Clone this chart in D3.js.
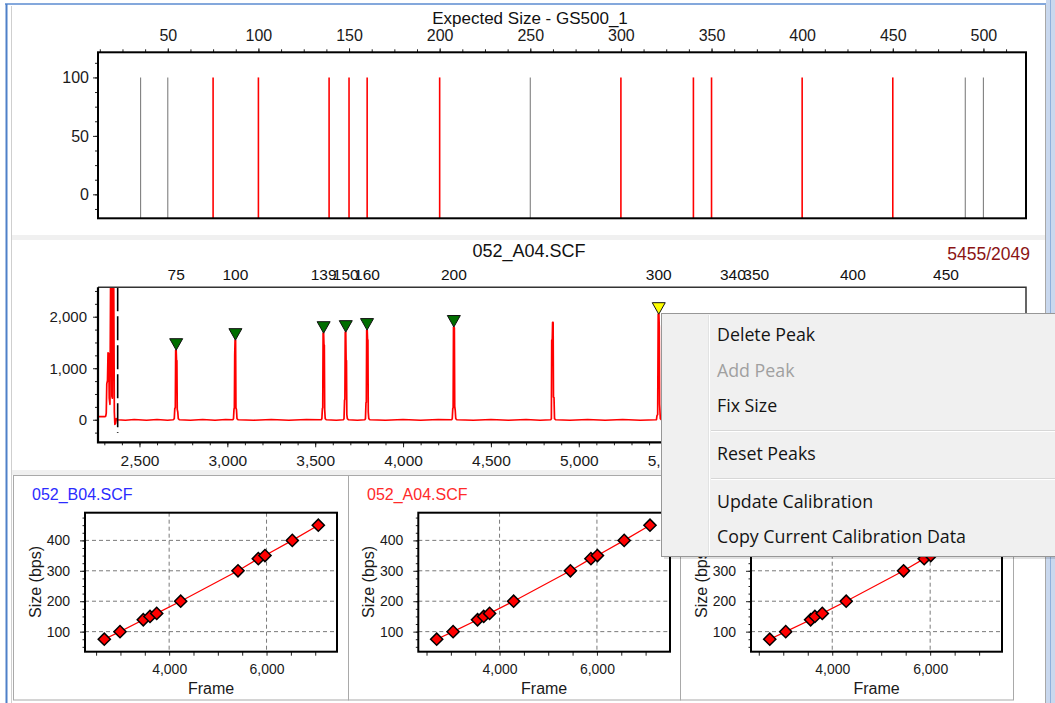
<!DOCTYPE html>
<html><head><meta charset="utf-8">
<script src="https://cdn.jsdelivr.net/npm/d3@7/dist/d3.min.js"></script>
<style>
html,body{margin:0;padding:0;background:#fff;overflow:hidden}
svg{display:block}
.ax text{font-family:"Liberation Sans",Arial,sans-serif;fill:#1a1a1a}
.ax path.domain{display:none}
.ax line{stroke:#222}
text.t{font-family:"Liberation Sans",Arial,sans-serif}
.menu text{font-family:"Open Sans","Noto Sans",sans-serif}
</style></head><body>
<svg id="chart" width="1055" height="703"></svg>
<script>
// ---------------- data ----------------
const ladderSizes  = [35, 50, 75, 100, 139, 150, 160, 200, 250, 300, 340, 350, 400, 450, 490, 500];
const ladderUsed   = [0, 0, 1, 1, 1, 1, 1, 1, 0, 1, 1, 1, 1, 1, 0, 0];
const ladderHeight = 100;
const ladderXTicks = [50, 100, 150, 200, 250, 300, 350, 400, 450, 500];
const ladderYTicks = [0, 50, 100];

const peakSizes    = [75, 100, 139, 150, 160, 200, 300, 340, 350, 400, 450];
const peakFrames   = [2709, 3046, 3548, 3674, 3795, 4289, 5455, 5877, 6010, 6560, 7090];
const peakTops     = [1350, 1545, 1680, 1700, 1740, 1800, 2049, 1700, 1680, 1650, 1600];
const selectedPeak = 6;
const startFrame   = 2376;
const traceXTicks  = [2500, 3000, 3500, 4000, 4500, 5000, 5500];
const traceYTicks  = [0, 1000, 2000];
const trace = [
[2264,60],[2302,60],[2308,70],[2311,130],[2314,700],[2318,760],[2321,1300],[2325,1280],[2328,420],[2332,300],[2336,2900],[2340,3100],[2343,450],[2346,420],[2349,3100],[2353,3000],[2357,150],[2360,-90],[2364,-70],[2368,20],[2374,0],
[2420,-10],[2470,5],[2540,-10],[2600,5],[2660,-10],[2692,0],
[2698,20],[2701,220],[2704,230],[2706,1350],[2709,1350],[2711,1150],[2713,1150],[2715,200],[2718,150],[2721,20],[2727,0],
[2790,-10],[2860,5],[2930,-10],[2990,5],[3032,0],
[3035,20],[3038,210],[3040,230],[3042,1250],[3044,1545],[3047,1545],[3049,230],[3052,200],[3055,20],[3061,0],
[3150,-10],[3250,5],[3350,-10],[3450,5],[3534,0],
[3538,20],[3541,220],[3543,230],[3545,1680],[3548,1680],[3550,1450],[3552,1450],[3554,200],[3557,20],[3563,0],
[3620,-10],[3661,0],
[3664,20],[3667,380],[3669,400],[3671,1700],[3674,1700],[3676,1150],[3678,1150],[3680,100],[3683,20],[3689,0],
[3740,-10],[3783,0],
[3786,20],[3789,330],[3791,340],[3793,1740],[3796,1740],[3798,1550],[3800,1550],[3802,150],[3805,20],[3811,0],
[3900,-10],[4000,5],[4100,-10],[4200,5],[4277,0],
[4280,20],[4283,220],[4285,230],[4287,1800],[4290,1800],[4292,1780],[4294,260],[4297,180],[4300,20],[4306,0],
[4400,-10],[4500,5],[4600,-10],[4700,5],[4780,-10],[4841,0],
[4844,20],[4846,1545],[4849,1545],[4851,1890],[4854,1890],[4856,440],[4859,430],[4862,20],[4868,0],
[4950,-10],[5050,5],[5150,-10],[5250,5],[5350,-10],[5442,0],
[5445,80],[5449,100],[5452,2049],[5456,2049],[5458,1800],[5460,300],[5464,20],[5470,0],
[5860,0],[5872,300],[5874,1700],[5878,1700],[5883,300],[5890,0],
[5995,0],[6005,300],[6008,1680],[6012,1680],[6016,300],[6024,0],
[6545,0],[6555,300],[6558,1650],[6562,1650],[6566,300],[6574,0],
[7075,0],[7085,300],[7088,1600],[7092,1600],[7096,300],[7104,0],
[7545,0]
];

const calSizes     = [75, 100, 139, 150, 160, 200, 300, 340, 350, 400, 450];
const calFramesB04 = [2668, 2991, 3469, 3607, 3744, 4237, 5414, 5831, 5968, 6529, 7063];
const calFramesA04 = [2709, 3046, 3548, 3674, 3795, 4289, 5455, 5877, 6010, 6560, 7090];
const calFramesC   = [2724, 3050, 3559, 3646, 3797, 4285, 5457, 5878, 6012, 6562, 7092];
const calXTicks    = [4000, 6000];
const calYTicks    = [100, 200, 300, 400];

const menuItems   = ["Delete Peak", "Add Peak", "Fix Size", "Reset Peaks", "Update Calibration", "Copy Current Calibration Data"];
const menuEnabled = [1, 0, 1, 1, 1, 1];

// ---------------- drawing ----------------
const svg = d3.select("#chart");
const W = 1055, H = 703;
const range = (a, b, s) => d3.range(a, b + s / 2, s);
// context menu rectangle (used to skip labels that it fully covers)
const mx = 661, my = 313, mw = 420, mh = 243;
const underMenu = (x, y) => x > mx + 8 && y > my && y < my + mh;

svg.append("rect").attr("width", W).attr("height", H).attr("fill", "#fff");

// window chrome
svg.append("rect").attr("x", 1046).attr("y", 0).attr("width", 9).attr("height", H).attr("fill", "#c9d8ee");
svg.append("line").attr("x1", 1045.5).attr("x2", 1045.5).attr("y1", 5).attr("y2", H).attr("stroke", "#a8a8a8");
svg.append("line").attr("x1", 1050.5).attr("x2", 1050.5).attr("y1", 0).attr("y2", H).attr("stroke", "#8fb0dc");
svg.append("line").attr("x1", 5).attr("x2", 1046).attr("y1", 4).attr("y2", 4).attr("stroke", "#5b8bd0").attr("stroke-width", 1.5);
svg.append("line").attr("x1", 6.5).attr("x2", 6.5).attr("y1", 4).attr("y2", H).attr("stroke", "#4f80c8").attr("stroke-width", 2);
svg.append("line").attr("x1", 11.5).attr("x2", 11.5).attr("y1", 6).attr("y2", H).attr("stroke", "#cfcfcf");
svg.append("rect").attr("x", 12).attr("y", 235).attr("width", 1033).attr("height", 5).attr("fill", "#f0f0f0");
svg.append("rect").attr("x", 12).attr("y", 470).attr("width", 1033).attr("height", 5).attr("fill", "#f0f0f0");

// ---------- top panel: expected sizes ----------
const xTop = d3.scaleLinear().domain([11.5, 523.5]).range([98, 1026]);
const yTop = d3.scaleLinear().domain([-20.5, 121.5]).range([218.3, 52.3]);

svg.append("text").attr("class", "t").attr("x", 530).attr("y", 24).attr("text-anchor", "middle")
  .attr("font-size", 17).attr("fill", "#111").text("Expected Size - GS500_1");

svg.append("g").attr("class", "ax").attr("transform", "translate(0,52.3)")
  .call(d3.axisTop(xTop).tickValues(range(12.5, 512.5, 12.5)).tickSize(3).tickFormat(""));
svg.append("g").attr("class", "ax").attr("transform", "translate(0,52.3)")
  .call(d3.axisTop(xTop).tickValues(ladderXTicks).tickSize(4).tickPadding(7))
  .selectAll("text").attr("font-size", 16);
svg.append("g").attr("class", "ax").attr("transform", "translate(98,0)")
  .call(d3.axisLeft(yTop).tickValues(range(-12.5, 112.5, 12.5)).tickSize(3).tickFormat(""));
svg.append("g").attr("class", "ax").attr("transform", "translate(98,0)")
  .call(d3.axisLeft(yTop).tickValues(ladderYTicks).tickSize(5).tickPadding(4))
  .selectAll("text").attr("font-size", 16);

svg.append("g").selectAll("line").data(ladderSizes).join("line")
  .attr("x1", d => xTop(d)).attr("x2", d => xTop(d))
  .attr("y1", yTop(ladderHeight)).attr("y2", yTop.range()[0])
  .attr("stroke", (d, i) => ladderUsed[i] ? "#ff0000" : "#7f7f7f")
  .attr("stroke-width", (d, i) => ladderUsed[i] ? 1.6 : 1.1);

svg.append("rect").attr("x", 98).attr("y", 52.3).attr("width", 1026 - 98).attr("height", 218.3 - 52.3)
  .attr("fill", "none").attr("stroke", "#000").attr("stroke-width", 2);

// ---------- middle panel: trace ----------
const xMid = d3.scaleLinear().domain([2264, 7545]).range([98, 1026]);
const yMid = d3.scaleLinear().domain([-438, 2571]).range([442.3, 287.3]);

svg.append("text").attr("class", "t").attr("x", 529).attr("y", 257).attr("text-anchor", "middle")
  .attr("font-size", 18).attr("fill", "#111").text("052_A04.SCF");
svg.append("text").attr("class", "t").attr("x", 1030).attr("y", 260).attr("text-anchor", "end")
  .attr("font-size", 17.5).attr("fill", "#8b1414")
  .text(peakFrames[selectedPeak] + "/" + peakTops[selectedPeak]);

svg.append("g").selectAll("text").data(peakSizes).join("text").attr("class", "t")
  .attr("x", (d, i) => xMid(peakFrames[i])).attr("y", 280).attr("text-anchor", "middle")
  .attr("font-size", 15.5).attr("fill", "#111").text(d => d);

svg.append("defs").append("clipPath").attr("id", "midclip").append("rect")
  .attr("x", 98).attr("y", 287.3).attr("width", 928).attr("height", 155);

svg.append("g").attr("class", "ax").attr("transform", "translate(0,442.3)")
  .call(d3.axisBottom(xMid).tickValues(range(2300, 7500, 100)).tickSize(3).tickFormat(""));
svg.append("g").attr("class", "ax").attr("transform", "translate(0,442.3)")
  .call(d3.axisBottom(xMid).tickValues(traceXTicks).tickSize(5).tickPadding(8).tickFormat(d3.format(",")))
  .selectAll("text").attr("font-size", 15.5);
svg.append("g").attr("class", "ax").attr("transform", "translate(98,0)")
  .call(d3.axisLeft(yMid).tickValues(range(-250, 2500, 250)).tickSize(3).tickFormat(""));
svg.append("g").attr("class", "ax").attr("transform", "translate(98,0)")
  .call(d3.axisLeft(yMid).tickValues(traceYTicks).tickSize(5).tickPadding(6).tickFormat(d3.format(",")))
  .selectAll("text").attr("font-size", 15);

const gTrace = svg.append("g").attr("clip-path", "url(#midclip)");
gTrace.append("path").datum(trace)
  .attr("d", d3.line().x(d => xMid(d[0])).y(d => yMid(d[1])))
  .attr("fill", "none").attr("stroke", "#ff0000").attr("stroke-width", 1.7).attr("stroke-linejoin", "round");
gTrace.append("line").attr("x1", xMid(startFrame)).attr("x2", xMid(startFrame))
  .attr("y1", 287.3).attr("y2", 433).attr("stroke", "#000").attr("stroke-width", 1.6)
  .attr("stroke-dasharray", "24,5");

svg.append("g").selectAll("path").data(peakFrames).join("path")
  .attr("d", (d, i) => {
    const x = xMid(d), y = yMid(peakTops[i]);
    return `M${x},${y} L${x - 6.5},${y - 11.5} L${x + 6.5},${y - 11.5} Z`;
  })
  .attr("fill", (d, i) => i === selectedPeak ? "#ffff00" : "#006e00")
  .attr("stroke", "#111").attr("stroke-width", 1);

svg.append("path").attr("d", "M98,287.3 H1026 V442.3").attr("fill", "none").attr("stroke", "#333").attr("stroke-width", 1.5);
svg.append("path").attr("d", "M98,287.3 V442.3 H1026").attr("fill", "none").attr("stroke", "#000").attr("stroke-width", 2.2);

// ---------- bottom panels: calibration ----------
const yCal = d3.scaleLinear().domain([34, 491]).range([651.7, 512.7]);
const panels = [
  { px0: 13, px1: 348, bx0: 85, bx1: 337, domain: [2272, 7447], frames: calFramesB04, title: "052_B04.SCF", color: "#2b2bff" },
  { px0: 348, px1: 680, bx0: 418.3, bx1: 670, domain: [2331, 7501], frames: calFramesA04, title: "052_A04.SCF", color: "#ff2a2a" },
  { px0: 680, px1: 1013, bx0: 751, bx1: 1002, domain: [2341, 7467], frames: calFramesC, title: null, color: "#000" }
];
panels.forEach(p => {
  const g = svg.append("g");
  g.append("rect").attr("x", p.px0 + 0.5).attr("y", 475.5).attr("width", p.px1 - p.px0).attr("height", 224.5)
    .attr("fill", "#fff").attr("stroke", "#a9a9a9");
  if (p.title) g.append("text").attr("class", "t").attr("x", p.px0 + 19).attr("y", 500)
    .attr("font-size", 16).attr("fill", p.color).text(p.title);
  const x = d3.scaleLinear().domain(p.domain).range([p.bx0, p.bx1]);
  g.append("g").selectAll("line").data(calXTicks).join("line")
    .attr("x1", d => x(d)).attr("x2", d => x(d)).attr("y1", 512.7).attr("y2", 651.7)
    .attr("stroke", "#7a7a7a").attr("stroke-dasharray", "4,3");
  g.append("g").selectAll("line").data(calYTicks).join("line")
    .attr("x1", p.bx0).attr("x2", p.bx1).attr("y1", d => yCal(d)).attr("y2", d => yCal(d))
    .attr("stroke", "#7a7a7a").attr("stroke-dasharray", "4,3");
  g.append("g").attr("class", "ax").attr("transform", "translate(0,651.7)")
    .call(d3.axisBottom(x).tickValues(range(2500, 7000, 500)).tickSize(4).tickFormat(""));
  g.append("g").attr("class", "ax").attr("transform", "translate(0,651.7)")
    .call(d3.axisBottom(x).tickValues(calXTicks).tickSize(0).tickPadding(12).tickFormat(d3.format(",")))
    .selectAll("text").attr("font-size", 14);
  g.append("g").attr("class", "ax").attr("transform", `translate(${p.bx0},0)`)
    .call(d3.axisLeft(yCal).tickValues(range(50, 475, 25)).tickSize(2.5).tickFormat(""));
  g.append("g").attr("class", "ax").attr("transform", `translate(${p.bx0},0)`)
    .call(d3.axisLeft(yCal).tickValues(calYTicks.filter(v => !underMenu(p.bx0 - 20, yCal(v))))
      .tickSize(5).tickPadding(10))
    .selectAll("text").attr("font-size", 14);
  g.append("text").attr("class", "t").attr("x", (p.bx0 + p.bx1) / 2).attr("y", 694)
    .attr("text-anchor", "middle").attr("font-size", 16).attr("fill", "#1a1a1a").text("Frame");
  g.append("text").attr("class", "t").attr("transform", `translate(${p.bx0 - 44},582) rotate(-90)`)
    .attr("text-anchor", "middle").attr("font-size", 16).attr("fill", "#1a1a1a").text("Size (bps)");
  const pts = p.frames.map((f, i) => [f, calSizes[i]]);
  g.append("path").datum(pts).attr("d", d3.line().x(d => x(d[0])).y(d => yCal(d[1])))
    .attr("fill", "none").attr("stroke", "#ff0000").attr("stroke-width", 1.2);
  g.append("g").selectAll("path").data(pts).join("path")
    .attr("transform", d => `translate(${x(d[0])},${yCal(d[1])}) rotate(45)`)
    .attr("d", d3.symbol(d3.symbolSquare, 74))
    .attr("fill", "#ff0000").attr("stroke", "#000").attr("stroke-width", 1.5);
  g.append("rect").attr("x", p.bx0).attr("y", 512.7).attr("width", p.bx1 - p.bx0).attr("height", 651.7 - 512.7)
    .attr("fill", "none").attr("stroke", "#000").attr("stroke-width", 2);
});

// ---------- context menu ----------
const menu = svg.append("g").attr("class", "menu");
menu.append("rect").attr("x", mx + 3).attr("y", my + 3).attr("width", mw).attr("height", mh).attr("fill", "#000").attr("opacity", 0.12);
menu.append("rect").attr("x", mx + 0.5).attr("y", my + 0.5).attr("width", mw).attr("height", mh)
  .attr("fill", "#f0f0f0").attr("stroke", "#979797");
menu.append("line").attr("x1", 708.5).attr("x2", 708.5).attr("y1", my + 2).attr("y2", my + mh - 1).attr("stroke", "#e2e3e3");
menu.append("line").attr("x1", 709.5).attr("x2", 709.5).attr("y1", my + 2).attr("y2", my + mh - 1).attr("stroke", "#ffffff");
const itemY = [341, 376.5, 412, 460, 508, 543];
[430, 478].forEach(y => {
  menu.append("line").attr("x1", 711).attr("x2", W).attr("y1", y + 0.5).attr("y2", y + 0.5).attr("stroke", "#d7d7d7");
  menu.append("line").attr("x1", 711).attr("x2", W).attr("y1", y + 1.5).attr("y2", y + 1.5).attr("stroke", "#ffffff");
});
menu.selectAll("text.mi").data(menuItems).join("text").attr("class", "mi")
  .attr("x", 717).attr("y", (d, i) => itemY[i]).attr("font-size", 17.8)
  .attr("fill", (d, i) => menuEnabled[i] ? "#141414" : "#a0a0a0").text(d => d);
</script>
</body></html>
